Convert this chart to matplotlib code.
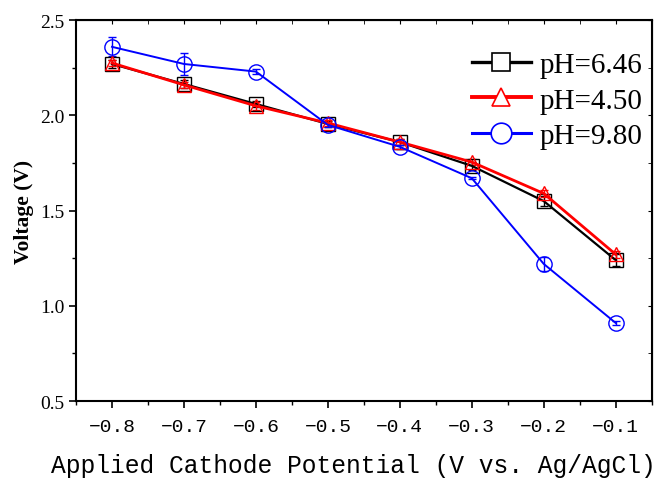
import matplotlib.pyplot as plt
from matplotlib.lines import Line2D
import numpy as np

potential = [-0.8, -0.7, -0.6, -0.5, -0.4, -0.3, -0.2, -0.1]
labels = ['pH=6.46', 'pH=4.50', 'pH=9.80']
v_646 = [2.27, 2.165, 2.06, 1.955, 1.86, 1.735, 1.55, 1.24]
e_646 = [0.02, 0.02, 0.015, 0.015, 0.015, 0.02, 0.025, 0.03]
v_450 = [2.275, 2.16, 2.05, 1.96, 1.86, 1.755, 1.59, 1.27]
e_450 = [0.015, 0.015, 0.02, 0.015, 0.015, 0.015, 0.02, 0.02]
v_980 = [2.36, 2.27, 2.23, 1.95, 1.835, 1.67, 1.22, 0.91]
e_980 = [0.05, 0.06, 0.015, 0.01, 0.01, 0.005, 0.035, 0.01]
y_ticks = [0.5, 1.0, 1.5, 2.0, 2.5]

fig = plt.figure(figsize=(6.57, 4.81), dpi=100)
ax = fig.add_axes([0.1157, 0.164, 0.8763, 0.792])

series = [(v_646, e_646, 'black', 's', 1.6, 10),
          (v_450, e_450, 'red', '^', 2.0, 10),
          (v_980, e_980, 'blue', 'o', 1.4, 11)]
handles = []
for v, e, c, m, lw, ms in series:
    ax.errorbar(potential, v, yerr=e, color=c, marker=m, ms=ms,
                mfc='none', mec=c, mew=1.0, lw=lw, capsize=3, elinewidth=1.0)
    handles.append(Line2D([], [], color=c, marker=m, ms=ms * 1.35, mfc='white',
                          mec=c, mew=1.2, lw=lw + 0.8))

ax.set_xlim(-0.85, -0.05)
ax.set_ylim(0.5, 2.5)
ax.set_yticks(y_ticks)
ax.set_yticks(np.arange(0.75, 2.5, 0.5), minor=True)
ax.set_xticks(potential)
ax.set_xticks(np.arange(-0.85, -0.04, 0.1), minor=True)
ax.set_xticklabels(['\u22120.%d' % int(round(-p * 10)) for p in potential],
                   family=['Liberation Mono', 'DejaVu Sans Mono'], fontsize=14)
ax.set_yticklabels(['%.1f' % t for t in y_ticks], family='Liberation Serif', fontsize=14)
ax.tick_params(which='major', direction='out', length=5, width=1.2)
ax.tick_params(which='minor', direction='out', length=3, width=1.0)
ax.tick_params(axis='x', which='major', pad=7)
for s in ax.spines.values():
    s.set_linewidth(1.5)

top = ax.secondary_xaxis('top')
top.set_xticks(potential)
top.set_xticks(np.arange(-0.85, -0.04, 0.1), minor=True)
top.tick_params(which='both', direction='in', length=3, labeltop=False)
right = ax.secondary_yaxis('right')
right.set_yticks(y_ticks)
right.set_yticks(np.arange(0.75, 2.5, 0.5), minor=True)
right.tick_params(which='both', direction='in', length=3, labelright=False)

ax.set_xlabel('Applied Cathode Potential (V vs. Ag/AgCl)',
              family=['Liberation Mono', 'DejaVu Sans Mono'], fontsize=17.7)
ax.xaxis.set_label_coords(0.482, -0.135)
ax.set_ylabel('Voltage (V)', family='Liberation Serif', fontweight='bold', fontsize=15.5)

ax.legend(handles=handles, labels=labels, loc='upper right', frameon=False,
          prop={'family': 'Liberation Serif', 'size': 21}, handlelength=2.0,
          borderaxespad=0.3, labelspacing=0.3, handletextpad=0.3,
          bbox_to_anchor=(1.019, 0.97))

fig.savefig('out.png', dpi=100)
